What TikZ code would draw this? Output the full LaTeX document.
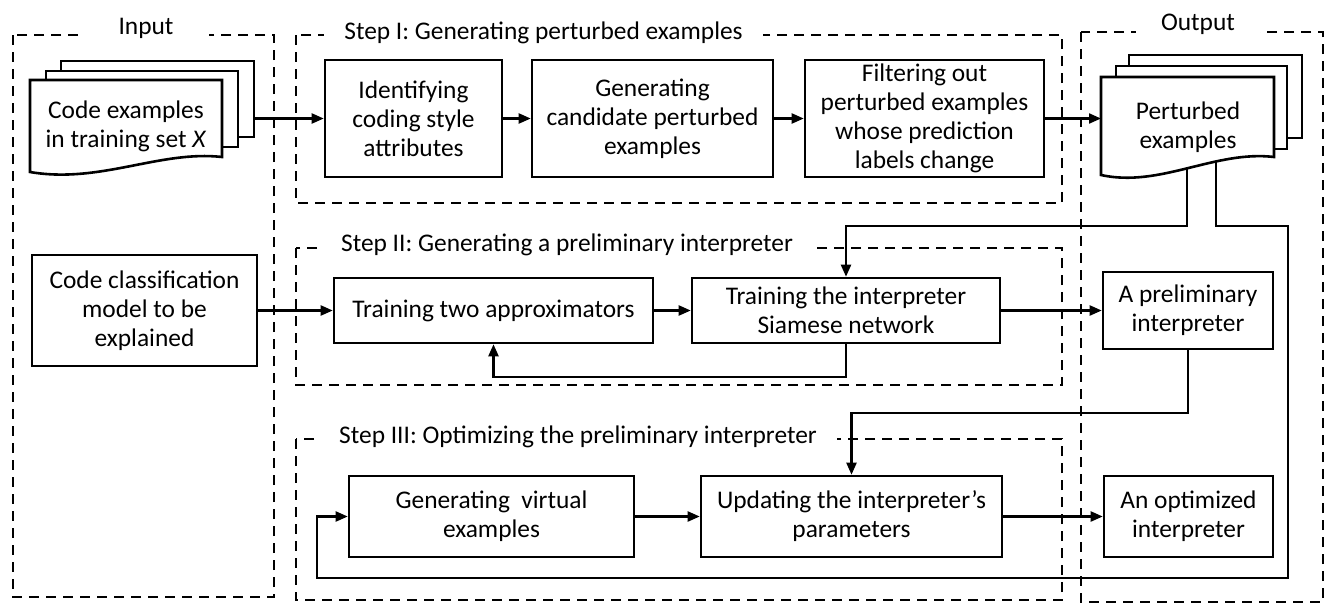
\documentclass[tikz,border=0pt]{standalone}
\usepackage{fontspec}
\setmainfont{Carlito}
\usetikzlibrary{arrows.meta}

\begin{document}
\begin{tikzpicture}[x=0.5pt,y=-0.5pt,
  font=\fontsize{12.7}{14.5}\selectfont,
  box/.style={draw,line width=1.3pt,align=center,inner sep=2pt},
  frame/.style={line width=1.1pt,dash pattern=on 5pt off 3.5pt},
  framelabel/.style={fill=white,inner xsep=10pt,inner ysep=1pt},
  page/.style={draw,line width=1.3pt,fill=white},
  arr/.style={line width=1.1pt,-{Triangle[length=6pt,width=5pt]}},
  link/.style={line width=1.1pt}]
\useasboundingbox (0,0) rectangle (1330,616);

% Dashed frames of input, output and the three steps.
\draw[frame] (13,35) rectangle (274,597);
\draw[frame] (1081,32) rectangle (1323,602);
\draw[frame] (296,35) rectangle (1062,203);
\draw[frame] (296,248) rectangle (1062,385);
\draw[frame] (296,439) rectangle (1062,600);

\node[framelabel,inner xsep=18pt] (inlab) at (146,28) {Input};
\node[framelabel,inner xsep=12.5pt] (outlab) at (1198,24) {Output};
\node[framelabel] (steponelab) at (543.5,33) {Step I: Generating perturbed examples};
\node[framelabel] (steptwolab) at (567,245) {Step II: Generating a preliminary interpreter};
\node[framelabel] (stepthreelab) at (578,437) {Step III: Optimizing the preliminary interpreter};

% Boxes.
\node[box,minimum width=88.5pt,minimum height=58.5pt] (ident) at (413.5,118.5) {Identifying\\coding style\\attributes};
\node[box,minimum width=120.5pt,minimum height=58.5pt] (cand) at (652.5,118.5) {Generating\\candidate perturbed\\examples};
\node[box,minimum width=119.5pt,minimum height=58.5pt] (filt) at (924.5,118.5) {Filtering out\\perturbed examples\\whose prediction\\labels change};

\node[box,minimum width=112.5pt,minimum height=55.5pt] (model) at (144.5,310.5) {Code classification\\model to be\\explained};
\node[box,minimum width=159.5pt,minimum height=32.5pt] (approx) at (493.5,310.5) {Training two approximators};
\node[box,minimum width=154pt,minimum height=32.5pt] (siam) at (846,310.5) {Training the interpreter\\Siamese network};
\node[box,minimum width=85pt,minimum height=38.5pt] (prelim) at (1188,310.5) {A preliminary\\interpreter};

\node[box,minimum width=142.5pt,minimum height=40.5pt] (virt) at (491.5,516.5) {Generating\ \ virtual\\examples};
\node[box,minimum width=150.5pt,minimum height=40.5pt] (upd) at (851.5,516.5) {Updating the interpreter’s\\parameters};
\node[box,minimum width=84.5pt,minimum height=40.5pt] (optim) at (1188.5,516.5) {An optimized\\interpreter};

% Lines leaving the perturbed examples (drawn first, pages cover their start).
\coordinate (pertjoin) at (1187,226);
\coordinate (loopA) at (1216,226);
\coordinate (loopR) at (1288,578);
\coordinate (loopL) at (317,578);
\draw[arr] (1187,150) -- (pertjoin) -| (siam.north);
\draw[arr] (1216,150) -- (loopA) -| (loopR) -- (loopL) |- (virt.west);

% Stacked pages.
\draw[page] (61,61) rectangle (254,137);
\draw[page] (46,71) rectangle (238,147);
\draw[page] (30,80) -- (222,80) -- (222,157) .. controls (160,150) and (100,184) .. (30,172) -- cycle;
\node[align=center] (codex) at (126,126) {Code examples\\in training set \textit{X}};

\draw[page] (1129,55) rectangle (1302,138);
\draw[page] (1116,66) rectangle (1287,149);
\draw[page] (1101,77) -- (1274,77) -- (1274,157) .. controls (1215,150) and (1160,188) .. (1101,175) -- cycle;
\node[align=center] (pert) at (1188,127) {Perturbed\\examples};

% Arrows.
\coordinate (codexout) at (254,118.5);
\coordinate (pertin) at (1101,118.5);
\draw[arr] (codexout) -- (ident.west);
\draw[arr] (ident) -- (cand);
\draw[arr] (cand) -- (filt);
\draw[arr] (filt.east) -- (pertin);

\draw[arr] (model) -- (approx);
\draw[arr] (approx) -- (siam);
\draw[arr] (siam) -- (prelim);
\draw[arr] (siam.south) -- ++(0,33) -| (approx.south);

\draw[arr] (prelim.south) -- ++(0,63) -| (upd.north);
\draw[arr] (virt) -- (upd);
\draw[arr] (upd) -- (optim);
\end{tikzpicture}
\end{document}
